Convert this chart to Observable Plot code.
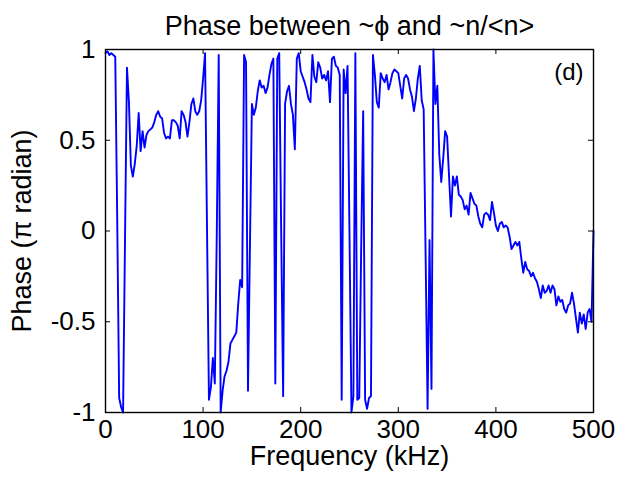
<!DOCTYPE html>
<html><head><meta charset="utf-8">
<script src="https://cdn.jsdelivr.net/npm/d3@7"></script>
<script src="https://cdn.jsdelivr.net/npm/@observablehq/plot@0.6"></script>
<style>body{margin:0;background:#fff} svg{display:block}</style>
</head><body><div id="chart"></div>
<script>
const title = "Phase between ~ϕ and ~n/<n>";
const xLabel = "Frequency (kHz)";
const yLabel = "Phase (π radian)";
const panelTag = "(d)";
const xTicks = [0, 100, 200, 300, 400, 500];
const yTicks = [-1, -0.5, 0, 0.5, 1];

const freqKHz = [
  0,2,4,6,8,10,12,14,16,18,20,22,24,26,28,30,32,34,36,38,40,42,44,46,48,50,
  52,54,56,58,60,62,64,66,68,70,72,74,76,78,80,82,84,86,88,90,92,94,96,98,100,
  102,104,106,108,110,112,114,116,118,120,122,124,126,128,130,132,134,136,138,140,
  142,144,146,148,150,152,154,156,158,160,162,164,166,168,170,172,174,176,178,180,
  182,184,186,188,190,192,194,196,198,200,202,204,206,208,210,212,214,216,218,220,
  222,224,226,228,230,232,234,236,238,240,242,244,246,248,250,252,254,256,258,260,
  262,264,266,268,270,272,274,276,278,280,282,284,286,288,290,292,294,296,298,300,
  302,304,306,308,310,312,314,316,318,320,322,324,326,328,330,332,334,336,338,340,
  342,344,346,348,350,352,354,356,358,360,362,364,366,368,370,372,374,376,378,380,
  382,384,386,388,390,392,394,396,398,400,402,404,406,408,410,412,414,416,418,420,
  422,424,426,428,430,432,434,436,438,440,442,444,446,448,450,452,454,456,458,460,
  462,464,466,468,470,472,474,476,478,480,482,484,486,488,490,492,494,496,498,500
];

const phasePi = [
  0.98,0.99,0.97,0.98,0.97,0.96,0.07,-0.92,-0.97,-1.00,-0.04,0.90,0.71,0.36,0.30,0.37,0.47,0.65,0.44,0.55,0.46,0.53,0.55,0.56,0.57,0.60,
  0.64,0.66,0.63,0.62,0.54,0.51,0.52,0.51,0.61,0.61,0.60,0.58,0.51,0.66,0.64,0.60,0.52,0.60,0.70,0.73,0.66,0.64,0.66,0.72,0.84,
  0.98,0.02,-0.93,-0.86,-0.70,-0.84,-0.02,0.97,-1.00,-0.88,-0.80,-0.77,-0.72,-0.62,-0.60,-0.58,-0.56,-0.40,-0.27,-0.31,
  0.97,0.93,-0.88,-0.08,0.70,0.64,0.68,0.77,0.83,0.79,0.80,0.76,0.79,0.86,0.92,0.95,-0.84,0.95,0.98,0.00,
  -0.91,0.70,0.77,0.80,0.70,0.64,0.45,0.95,0.98,0.88,0.85,0.82,0.78,0.73,0.71,0.97,0.85,0.82,0.93,0.90,
  0.84,0.86,0.83,0.88,0.71,0.95,0.96,0.91,0.90,0.86,-0.93,0.89,0.76,0.91,-0.02,-1.00,-0.91,0.98,-0.93,-0.92,
  -0.08,0.66,-0.93,-0.98,-0.92,-0.91,0.97,0.86,0.71,0.68,0.87,0.84,0.82,0.86,0.78,0.82,0.87,0.89,0.88,0.87,
  0.80,0.73,0.84,0.86,0.84,0.78,0.74,0.66,0.73,0.84,0.91,0.72,0.67,-0.14,-0.98,-0.05,-0.87,1.00,0.70,0.80,
  0.42,0.27,0.40,0.55,0.52,0.30,0.08,0.30,0.25,0.30,0.20,0.19,0.17,0.12,0.14,0.09,0.21,0.18,0.15,0.14,
  0.08,0.04,0.02,0.09,0.10,0.09,0.06,0.16,0.10,0.03,0.00,0.04,0.05,0.02,0.03,0.02,-0.03,-0.10,-0.08,-0.06,
  -0.08,-0.06,-0.15,-0.23,-0.17,-0.21,-0.22,-0.25,-0.23,-0.26,-0.28,-0.32,-0.37,-0.30,-0.34,-0.33,-0.30,-0.34,-0.30,-0.32,
  -0.41,-0.36,-0.39,-0.38,-0.43,-0.45,-0.41,-0.40,-0.34,-0.40,-0.48,-0.56,-0.45,-0.51,-0.46,-0.54,-0.45,-0.43,-0.50,0.00
];

const W = 617, H = 481, mL = 105, mR = 24, mT = 49, mB = 69;
const innerW = W - mL - mR, innerH = H - mT - mB;
const tickLen = 5;
const font = "'Liberation Sans', Arial, Helvetica, sans-serif";
const data = freqKHz.map((f, i) => ({f, p: phasePi[i]}));

const chart = Plot.plot({
  width: W, height: H,
  marginLeft: mL, marginRight: mR, marginTop: mT, marginBottom: mB,
  style: {fontFamily: font, background: "white", color: "black", overflow: "visible"},
  x: {domain: [0, 500], label: null},
  y: {domain: [-1, 1], label: null},
  marks: [
    Plot.line(data, {x: "f", y: "p", stroke: "#0000ff", strokeWidth: 1.9}),
    Plot.frame({stroke: "black", strokeWidth: 1.4}),
    Plot.tickX(xTicks, {x: d => d, insetTop: innerH - tickLen, stroke: "black"}),
    Plot.tickX(xTicks, {x: d => d, insetBottom: innerH - tickLen, stroke: "black"}),
    Plot.tickY(yTicks, {y: d => d, insetRight: innerW - tickLen, stroke: "black"}),
    Plot.tickY(yTicks, {y: d => d, insetLeft: innerW - tickLen, stroke: "black"}),
    Plot.axisX({ticks: xTicks, tickSize: 0, tickPadding: 7, fontSize: 26, tickFormat: d => String(d), label: null}),
    Plot.axisY({ticks: yTicks, tickSize: 0, tickPadding: 10, fontSize: 26, tickFormat: d => String(d), label: null}),
    Plot.text([title], {text: d => d, frameAnchor: "top", lineAnchor: "middle", textAnchor: "middle", dy: -23, fontSize: 27}),
    Plot.text([panelTag], {text: d => d, frameAnchor: "top-right", lineAnchor: "middle", textAnchor: "end", dx: -10, dy: 23, fontSize: 24}),
    Plot.text([xLabel], {text: d => d, frameAnchor: "bottom", lineAnchor: "middle", textAnchor: "middle", dy: 44, fontSize: 27}),
    Plot.text([yLabel], {text: d => d, frameAnchor: "left", lineAnchor: "middle", textAnchor: "middle", rotate: -90, dx: -83, fontSize: 27})
  ]
});
document.getElementById("chart").appendChild(chart);
</script>
</body></html>
